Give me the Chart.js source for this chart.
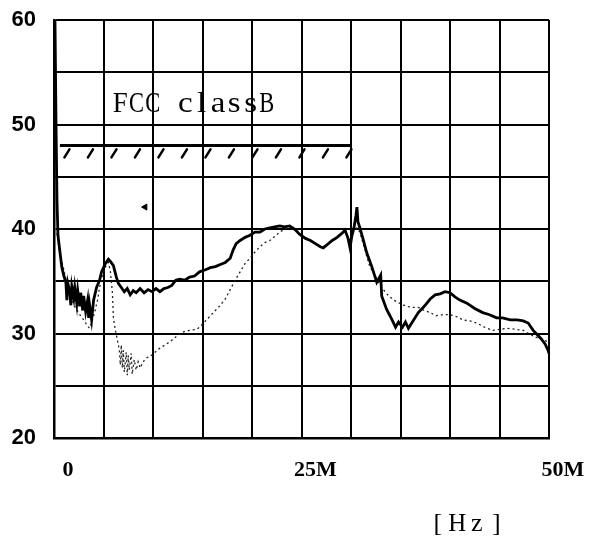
<!DOCTYPE html>
<html>
<head>
<meta charset="utf-8">
<script src="https://cdn.jsdelivr.net/npm/chart.js@4.4.0/dist/chart.umd.min.js"></script>
<style>
  html, body { margin: 0; padding: 0; background: #fff; }
  #wrap { width: 589px; height: 550px; }
</style>
</head>
<body>
<div id="wrap"><canvas id="noiseChart"></canvas></div>
<script>
// conducted noise, MHz vs dB
const solidFreq = [
  0.1, 0.2, 0.3, 0.4, 0.6, 0.8, 1.0, 1.2, 1.3, 1.4,
  1.6, 1.7, 1.8, 2.0, 2.1, 2.3, 2.4, 2.6, 2.7, 2.9,
  3.0, 3.2, 3.4, 3.5, 3.6, 3.8, 4.0, 4.3, 4.6, 4.8,
  5.2, 5.5, 5.7, 6.0, 6.3, 6.5, 6.8, 7.1, 7.4, 7.7,
  8.0, 8.3, 8.7, 9.1, 9.5, 9.9, 10.3, 10.7, 11.1, 11.5,
  11.9, 12.3, 12.7, 13.2, 13.7, 14.2, 14.7, 15.3, 15.8, 16.3,
  16.8, 17.3, 17.8, 18.1, 18.4, 18.8, 19.3, 19.8, 20.3, 20.8,
  21.3, 21.8, 22.3, 22.8, 23.3, 23.8, 24.3, 24.8, 25.4, 25.9,
  26.4, 26.9, 27.2, 27.6, 28.1, 28.6, 29.1, 29.4, 29.7, 29.9,
  30.1, 30.3, 30.5, 30.6, 30.7, 30.9, 31.2, 31.6, 32.1, 32.6,
  33.0, 33.1, 33.6, 34.1, 34.5, 34.8, 35.2, 35.5, 35.8, 36.2,
  36.8, 37.4, 38.0, 38.5, 39.0, 39.5, 40.0, 40.5, 41.0, 41.7,
  42.5, 43.3, 44.0, 44.7, 45.3, 46.1, 46.8, 47.4, 47.9, 48.4,
  48.8, 49.2, 49.6, 49.9, 50.0
];
const solidLevel = [
  60.0, 50.4, 42.8, 39.4, 37.8, 36.3, 35.5, 34.9, 33.2, 34.8,
  34.0, 32.7, 34.5, 33.4, 34.4, 32.9, 34.1, 32.6, 33.9, 32.2,
  33.6, 32.1, 33.2, 31.5, 32.7, 31.3, 33.2, 34.4, 35.1, 35.9,
  36.7, 37.1, 36.9, 36.5, 35.4, 34.8, 34.4, 34.0, 34.3, 33.7,
  34.1, 33.9, 34.3, 33.9, 34.2, 34.0, 34.3, 34.0, 34.3, 34.4,
  34.6, 35.1, 35.2, 35.1, 35.4, 35.5, 35.9, 36.1, 36.3, 36.4,
  36.6, 36.8, 37.2, 38.0, 38.6, 38.9, 39.2, 39.4, 39.7, 39.7,
  40.0, 40.1, 40.2, 40.3, 40.2, 40.3, 40.0, 39.5, 39.1, 38.9,
  38.6, 38.3, 38.2, 38.5, 38.9, 39.2, 39.6, 39.9, 39.1, 38.2,
  39.4, 40.1, 41.3, 42.1, 40.7, 40.1, 39.1, 37.7, 36.4, 34.9,
  35.6, 33.6, 32.3, 31.4, 30.6, 31.1, 30.6, 31.1, 30.5, 31.1,
  32.0, 32.6, 33.3, 33.7, 33.8, 34.0, 33.9, 33.5, 33.2, 32.9,
  32.4, 32.0, 31.8, 31.5, 31.5, 31.3, 31.3, 31.2, 31.0, 30.3,
  29.9, 29.5, 29.0, 28.4, 28.1
];

const dottedFreq = [
  0.3, 0.6, 1.0, 1.4, 1.8, 2.2, 2.6, 3.0, 3.4, 3.6,
  3.8, 4.1, 4.4, 4.6, 4.9, 5.3, 5.5, 5.7, 5.9, 6.0,
  6.2, 6.4, 6.6, 6.7, 6.8, 6.9, 7.0, 7.1, 7.3, 7.4,
  7.5, 7.6, 7.8, 7.9, 8.1, 8.3, 8.5, 8.7, 9.0, 9.4,
  9.7, 10.2, 10.7, 11.2, 11.7, 12.2, 12.7, 13.2, 13.7, 14.4,
  14.7, 15.3, 15.8, 16.3, 16.8, 17.3, 17.8, 18.3, 18.8, 19.3,
  19.8, 20.3, 20.8, 21.3, 21.8, 22.3, 22.8, 23.3, 23.8, 24.3,
  24.8, 25.4, 25.9, 26.4, 26.9, 27.4, 27.9, 28.4, 28.9, 29.4,
  29.9, 30.2, 30.6, 30.9, 31.4, 31.9, 32.5, 33.1, 33.7, 34.3,
  34.9, 35.6, 36.2, 36.8, 37.4, 38.0, 38.6, 39.3, 40.0, 40.7,
  41.3, 42.0, 42.7, 43.5, 44.3, 45.1, 45.8, 46.6, 47.4, 48.1,
  48.8, 49.4, 49.9
];
const dottedLevel = [
  39.6, 37.5, 36.1, 34.2, 33.2, 32.4, 31.8, 31.3, 30.7, 30.5,
  31.1, 32.0, 33.2, 34.4, 35.6, 36.6, 36.8, 35.9, 33.9, 31.5,
  30.3, 29.4, 28.4, 27.0, 28.9, 26.7, 28.4, 26.3, 28.2, 26.0,
  27.9, 26.5, 28.1, 26.1, 27.5, 26.5, 27.3, 26.7, 27.3, 27.7,
  27.8, 28.2, 28.6, 28.9, 29.2, 29.6, 30.0, 30.2, 30.3, 30.4,
  30.6, 31.2, 31.7, 32.2, 32.7, 33.3, 34.2, 35.1, 35.9, 36.7,
  37.2, 37.8, 38.3, 38.7, 38.9, 39.3, 39.7, 40.0, 40.2, 39.9,
  39.5, 39.1, 38.9, 38.6, 38.3, 38.4, 38.7, 39.1, 39.4, 39.8,
  38.9, 39.8, 40.1, 39.7, 38.0, 36.4, 35.4, 34.4, 33.7, 33.2,
  32.9, 32.6, 32.5, 32.5, 32.2, 32.0, 31.7, 31.8, 31.8, 31.6,
  31.3, 31.2, 31.0, 30.6, 30.3, 30.4, 30.5, 30.4, 30.3, 29.9,
  29.6, 29.4, 29.2
];

// FCC class B limit segment
const limitFreq = [0.6, 29.9];
const limitLevel = [48, 48];

// small stray mark on the trace sheet
const markFreq = [9.2];
const markLevel = [42.1];

const xTickValues = [0, 25, 50];
const xTickLabels = ['0', '25M', '50M'];
const yTickValues = [20, 30, 40, 50, 60];
const limitName = 'FCC classB';
const unitName = '[Hz]';

function toPoints(xs, ys) {
    return xs.map((x, i) => ({ x: x, y: ys[i] }));
}

// draws text one glyph per fixed-width cell, each glyph stretched
// or squeezed toward the cell width (typewriter look)
function drawCells(ctx, text, x, y, cell, maxScale) {
    ctx.textAlign = 'center';
    for (let i = 0; i < text.length; i++) {
        const w = ctx.measureText(text[i]).width || 1;
        const s = Math.min(maxScale, (cell * 0.92) / w);
        ctx.save();
        ctx.translate(x + cell * (i + 0.5), y);
        ctx.scale(s, 1);
        ctx.fillText(text[i], 0, 0);
        ctx.restore();
    }
}

// hatching under the limit line plus the two free text labels
const limitDecor = {
    id: 'limitDecor',
    afterDatasetsDraw(chart) {
        const ctx = chart.ctx;
        const xs = chart.scales.x;
        const ys = chart.scales.y;
        const x0 = xs.getPixelForValue(limitFreq[0]);
        const x1 = xs.getPixelForValue(limitFreq[1]);
        const yl = ys.getPixelForValue(limitLevel[0]);

        ctx.save();
        ctx.strokeStyle = '#000';
        ctx.lineWidth = 2.5;
        ctx.lineCap = 'round';
        for (let px = x0 + 7; px <= x1 + 0.5; px += 23.5) {
            ctx.beginPath();
            ctx.moveTo(px + 2.5, yl + 4);
            ctx.lineTo(px - 2.5, yl + 12);
            ctx.stroke();
        }

        ctx.fillStyle = '#000';
        ctx.textBaseline = 'alphabetic';

        ctx.font = '30px "Liberation Serif"';
        drawCells(ctx, limitName, 112, 112, 16.3, 1.1);

        ctx.font = '26px "Liberation Serif"';
        drawCells(ctx, unitName, 428, 531, 19.5, 1);
        ctx.restore();
    }
};

const ctx = document.getElementById('noiseChart').getContext('2d');
new Chart(ctx, {
    type: 'line',
    data: {
        datasets: [
            {
                data: toPoints(solidFreq, solidLevel),
                borderColor: '#000',
                borderWidth: 2.8,
                pointRadius: 0,
                tension: 0
            },
            {
                data: toPoints(dottedFreq, dottedLevel),
                borderColor: '#222',
                borderWidth: 1.3,
                borderDash: [2, 3],
                pointRadius: 0,
                tension: 0
            },
            {
                data: toPoints(limitFreq, limitLevel),
                borderColor: '#000',
                borderWidth: 3,
                pointRadius: 0
            },
            {
                data: toPoints(markFreq, markLevel),
                showLine: false,
                pointStyle: 'triangle',
                rotation: -90,
                pointRadius: 3.5,
                backgroundColor: '#000',
                borderColor: '#000'
            }
        ]
    },
    options: {
        responsive: true,
        maintainAspectRatio: false,
        animation: false,
        layout: { padding: { top: 20, right: 40, left: 0, bottom: 0 } },
        plugins: {
            legend: { display: false },
            tooltip: { enabled: false }
        },
        scales: {
            x: {
                type: 'linear',
                min: 0,
                max: 50,
                afterBuildTicks: (scale) => {
                    const t = [];
                    for (let v = 0; v <= 50; v += 5) t.push({ value: v });
                    scale.ticks = t;
                },
                afterFit: (scale) => {
                    scale.height = 112;
                    scale.paddingLeft = 0;
                    scale.paddingRight = 0;
                },
                grid: { color: '#000', lineWidth: 2, drawTicks: false },
                border: { color: '#000', width: 2.5 },
                ticks: {
                    autoSkip: false,
                    maxRotation: 0,
                    padding: 19,
                    labelOffset: 14,
                    color: '#000',
                    font: { family: '"Liberation Serif"', size: 22, weight: 'bold' },
                    callback: (v) => {
                        const i = xTickValues.indexOf(v);
                        return i >= 0 ? xTickLabels[i] : '';
                    }
                }
            },
            y: {
                min: 20,
                max: 60,
                afterBuildTicks: (scale) => {
                    const t = [];
                    for (let v = 20; v <= 60; v += 5) t.push({ value: v });
                    scale.ticks = t;
                },
                afterFit: (scale) => {
                    scale.width = 54;
                    scale.paddingTop = 0;
                    scale.paddingBottom = 0;
                },
                grid: { color: '#000', lineWidth: 2, drawTicks: false },
                border: { color: '#000', width: 2.5 },
                ticks: {
                    autoSkip: false,
                    padding: 18,
                    color: '#000',
                    font: { family: '"Liberation Sans"', size: 22, weight: 'bold' },
                    callback: (v) => yTickValues.includes(v) ? String(v) : ''
                }
            }
        }
    },
    plugins: [limitDecor]
});
</script>
</body>
</html>
